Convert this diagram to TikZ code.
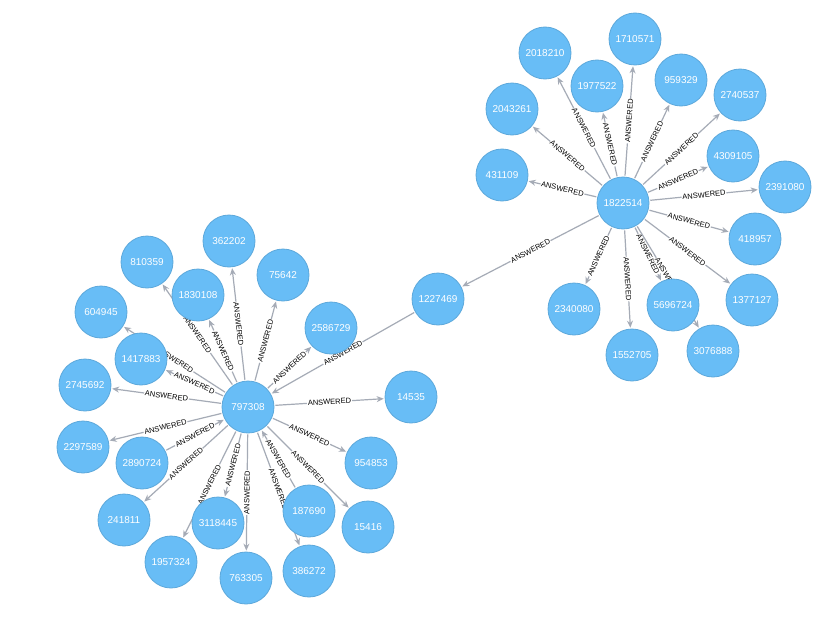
\documentclass[tikz,border=0pt]{standalone}
\usepackage{fontspec}
\setmainfont{Liberation Sans}
\usetikzlibrary{arrows.meta,backgrounds}
\definecolor{nfill}{HTML}{68BDF6}
\definecolor{nline}{HTML}{5CA8DB}
\definecolor{eline}{HTML}{A5ABB6}
\tikzset{
 gnode/.style={circle,fill=nfill,draw=nline,line width=0.8pt,minimum size=52pt,inner sep=0pt,text=white,font=\fontsize{10}{12}\selectfont},
 edge/.style={draw=eline,line width=1.2pt,-{Stealth[length=7pt,width=6pt]},shorten >=1pt,shorten <=1pt},
 lbl/.style={sloped,midway,fill=white,inner sep=0.8pt,text=black,font=\fontsize{7.5}{8}\selectfont}
}
\begin{document}
\begin{tikzpicture}[x=1pt,y=-1pt]
\useasboundingbox (0,0) rectangle (832,642);
% right cluster
\node[gnode] (h1) at (623,203) {1822514};
\foreach \n/\x/\y in {2018210/545/53,1710571/635/39,1977522/597/86,959329/681/80,2740537/740/95,2043261/512/109,4309105/733/156,431109/502/175,2391080/785/187,418957/755/239,1377127/752/300,2340080/574/309,5696724/673/305,3076888/713/351,1552705/632/355,1227469/438/299}
  \node[gnode] (n\n) at (\x,\y) {\n};
% left cluster
\node[gnode] (h2) at (248,407) {797308};
\foreach \n/\x/\y in {362202/229/241,810359/147/262,75642/283/275,1830108/198/295,604945/101/312,2586729/331/328,1417883/141/359,2745692/85/385,14535/411/397,2297589/83/447,2890724/142/463,954853/371/463,241811/124/520,3118445/218/523,187690/309/511,15416/368/527,1957324/171/562,763305/246/578,386272/309/571}
  \node[gnode] (n\n) at (\x,\y) {\n};
\begin{scope}[on background layer]
\fill[white] (0,0) rectangle (832,642);
\foreach \n in {2018210,1710571,1977522,959329,2740537,2043261,4309105,431109,2391080,418957,1377127,2340080,5696724,3076888,1552705,1227469}
  \draw[edge] (h1) -- node[lbl]{ANSWERED} (n\n);
\draw[edge] (n1227469) -- node[lbl]{ANSWERED} (h2);
\foreach \n in {362202,810359,75642,1830108,604945,2586729,1417883,2745692,14535,2297589,954853,241811,3118445,15416,1957324,763305,386272}
  \draw[edge] (h2) -- node[lbl]{ANSWERED} (n\n);
\draw[edge] (n2890724) -- node[lbl]{ANSWERED} (h2);
\draw[edge] (n187690) -- node[lbl]{ANSWERED} (h2);
\end{scope}
\end{tikzpicture}
\end{document}
